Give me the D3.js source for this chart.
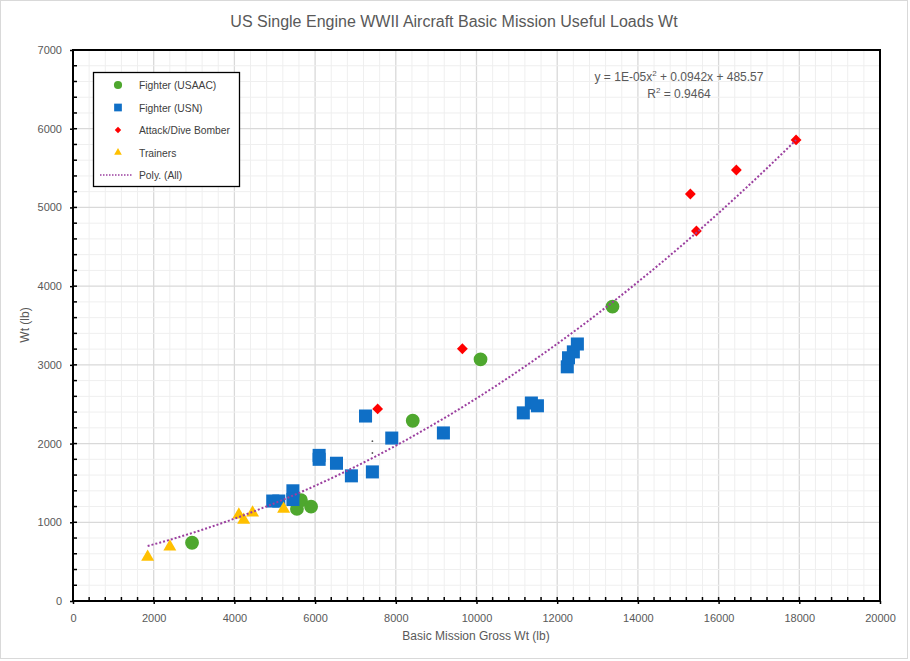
<!DOCTYPE html>
<html><head><meta charset="utf-8">
<script src="https://cdn.jsdelivr.net/npm/d3@7"></script>
<style>body{margin:0;background:#fff}svg{display:block}</style>
</head><body>
<script>
// ---- data ----
const fighterUSAAC = [[2950,740],[5550,1170],[5650,1280],[5900,1200],[8420,2290],[10100,3070],[13370,3740]];
const fighterUSN = [[4950,1270],[5100,1270],[5450,1400],[5450,1290],[6100,1850],[6100,1800],[6530,1750],[6900,1590],
  [7420,1640],[7250,2350],[7900,2070],[9180,2135],[11160,2390],[11360,2515],[11510,2480],[12250,2975],[12280,3090],[12400,3165],[12500,3265]];
const attackBomber = [[7550,2440],[9650,3205],[15300,5170],[16440,5475],[15450,4700],[17920,5858]];
const trainers = [[1850,560],[2400,690],[4110,1095],[4230,1030],[4450,1120],[5220,1170]];
const strayDots = [[7420,2030],[7420,1880]];
const polyCoef = [1.147e-5, 0.0942, 485.57]; // displayed: 1E-05, 0.0942, 485.57
const trendRange = [1850, 17920];
const xTicks = [0,2000,4000,6000,8000,10000,12000,14000,16000,18000,20000];
const yTicks = [0,1000,2000,3000,4000,5000,6000,7000];
const titleText = "US Single Engine WWII Aircraft Basic Mission Useful Loads Wt";
const xLabel = "Basic Mission Gross Wt (lb)";
const yLabel = "Wt (lb)";
const eqText = ["y = 1E-05x", "2", " + 0.0942x + 485.57"];
const r2Text = "0.9464";
const legendNames = ["Fighter (USAAC)","Fighter (USN)","Attack/Dive Bomber","Trainers","Poly. (All)"];

// ---- layout ----
const W=910,H=661;
const FONT='"Liberation Sans",Arial,sans-serif';
const svg=d3.select("body").append("svg").attr("width",W).attr("height",H);
svg.append("rect").attr("x",0.5).attr("y",0.5).attr("width",W-3).attr("height",H-3).attr("fill","#fff").attr("stroke","#d9d9d9");

const x=d3.scaleLinear().domain([0,20000]).range([73,880]);
const y=d3.scaleLinear().domain([0,7000]).range([601,50]);

// grids
const g=svg.append("g");
g.selectAll(".vmin").data(d3.range(0,20001,400)).join("line")
 .attr("x1",d=>x(d)).attr("x2",d=>x(d)).attr("y1",y(0)).attr("y2",y(7000))
 .attr("stroke",d=>d%2000===0?"#d9d9d9":"#efefef").attr("stroke-width",d=>d%2000===0?1.3:1);
g.selectAll(".hmin").data(d3.range(0,7001,200)).join("line")
 .attr("y1",d=>y(d)).attr("y2",d=>y(d)).attr("x1",x(0)).attr("x2",x(20000))
 .attr("stroke",d=>d%1000===0?"#d9d9d9":"#efefef").attr("stroke-width",d=>d%1000===0?1.3:1);

// axes
const xAxis=d3.axisBottom(x).tickValues(xTicks).tickSize(3).tickPadding(10).tickFormat(d3.format("d"));
const ax=svg.append("g").attr("transform",`translate(0,${y(0)})`).call(xAxis);
const yAxis=d3.axisLeft(y).tickValues(yTicks).tickSize(3).tickPadding(8).tickFormat(d3.format("d"));
const ay=svg.append("g").attr("transform",`translate(${x(0)},0)`).call(yAxis);
[ax,ay].forEach(a=>{
  a.select(".domain").remove();
  a.selectAll("line").attr("stroke","#000").attr("stroke-width",1.5);
  a.selectAll("text").attr("fill","#595959").style("font-family",FONT).style("font-size","11px");
});
// minor ticks inside
svg.append("g").selectAll("line").data(d3.range(400,20000,400)).join("line")
 .attr("x1",d=>x(d)).attr("x2",d=>x(d)).attr("y1",y(0)).attr("y2",y(0)-4).attr("stroke","#000").attr("stroke-width",1.5);
svg.append("g").selectAll("line").data(d3.range(200,7000,200)).join("line")
 .attr("y1",d=>y(d)).attr("y2",d=>y(d)).attr("x1",x(0)).attr("x2",x(0)+4).attr("stroke","#000").attr("stroke-width",1.5);
// frame
svg.append("rect").attr("x",x(0)).attr("y",y(7000)).attr("width",x(20000)-x(0)).attr("height",y(0)-y(7000))
 .attr("fill","none").attr("stroke","#000").attr("stroke-width",2);

// trendline
const tpts=d3.range(trendRange[0],trendRange[1]+1,100).concat([trendRange[1]]).map(v=>[v,polyCoef[0]*v*v+polyCoef[1]*v+polyCoef[2]]);
const line=d3.line().x(d=>x(d[0])).y(d=>y(d[1]));

// markers
const sym={
  circle:d3.symbol().type(d3.symbolCircle),
  square:d3.symbol().type(d3.symbolSquare),
  diamond:d3.symbol().type(d3.symbolDiamond2),
  tri:d3.symbol().type(d3.symbolTriangle2)
};
const series=[
  {data:fighterUSAAC,type:"circle",size:150,color:"#4EA72E"},
  {data:fighterUSN,type:"square",size:170,color:"#0F6FC6"},
  {data:attackBomber,type:"diamond",size:75,color:"#FF0000"},
  {data:trainers,type:"tri",size:120,color:"#FFC000"}
];
const mk=svg.append("g");
series.forEach(s=>{
  mk.selectAll(null).data(s.data).join("path")
   .attr("transform",d=>`translate(${x(d[0])},${y(d[1])})`)
   .attr("d",sym[s.type].size(s.size)()).attr("fill",s.color);
});
mk.selectAll(null).data(strayDots).join("circle").attr("cx",d=>x(d[0])).attr("cy",d=>y(d[1])).attr("r",0.9).attr("fill","#555");

svg.append("path").datum(tpts).attr("d",line).attr("fill","none").attr("stroke","#9B3F9F")
 .attr("stroke-width",2).attr("stroke-dasharray","2,2");

// title
svg.append("text").attr("x",454).attr("y",27).attr("text-anchor","middle").attr("fill","#595959")
 .style("font-family",FONT).style("font-size","16px").text(titleText);
// axis titles
svg.append("text").attr("x",476).attr("y",640).attr("text-anchor","middle").attr("fill","#595959")
 .style("font-family",FONT).style("font-size","12px").text(xLabel);
svg.append("text").attr("transform","translate(29,325) rotate(-90)").attr("text-anchor","middle").attr("fill","#595959")
 .style("font-family",FONT).style("font-size","12px").text(yLabel);

// equation
const eq=svg.append("text").attr("x",679).attr("y",81).attr("text-anchor","middle").attr("fill","#595959")
 .style("font-family",FONT).style("font-size","12px");
eq.append("tspan").text(eqText[0]);
eq.append("tspan").attr("dy",-5).style("font-size","8px").text(eqText[1]);
eq.append("tspan").attr("dy",5).text(eqText[2]);
const r2=svg.append("text").attr("x",679).attr("y",98).attr("text-anchor","middle").attr("fill","#595959")
 .style("font-family",FONT).style("font-size","12px");
r2.append("tspan").text("R");
r2.append("tspan").attr("dy",-5).style("font-size","8px").text("2");
r2.append("tspan").attr("dy",5).text(" = "+r2Text);

// legend
const lg=svg.append("g");
lg.append("rect").attr("x",93.5).attr("y",72.5).attr("width",146).attr("height",114).attr("fill","#fff").attr("stroke","#000").attr("stroke-width",1.3);
const ly=[85,107.5,130,152.5,175];
series.forEach((s,i)=>{
  lg.append("path").attr("transform",`translate(118,${ly[i]})`).attr("d",sym[s.type].size(s.size*0.35)()).attr("fill",s.color);
});
lg.append("line").attr("x1",100).attr("x2",133).attr("y1",ly[4]).attr("y2",ly[4]).attr("stroke","#9B3F9F").attr("stroke-width",1.5).attr("stroke-dasharray","1.5,1.5");
lg.selectAll(null).data(legendNames).join("text").attr("x",139).attr("y",(d,i)=>ly[i]+4).attr("fill","#404040")
 .style("font-family",FONT).style("font-size","10.3px").text(d=>d);
</script>
</body></html>
